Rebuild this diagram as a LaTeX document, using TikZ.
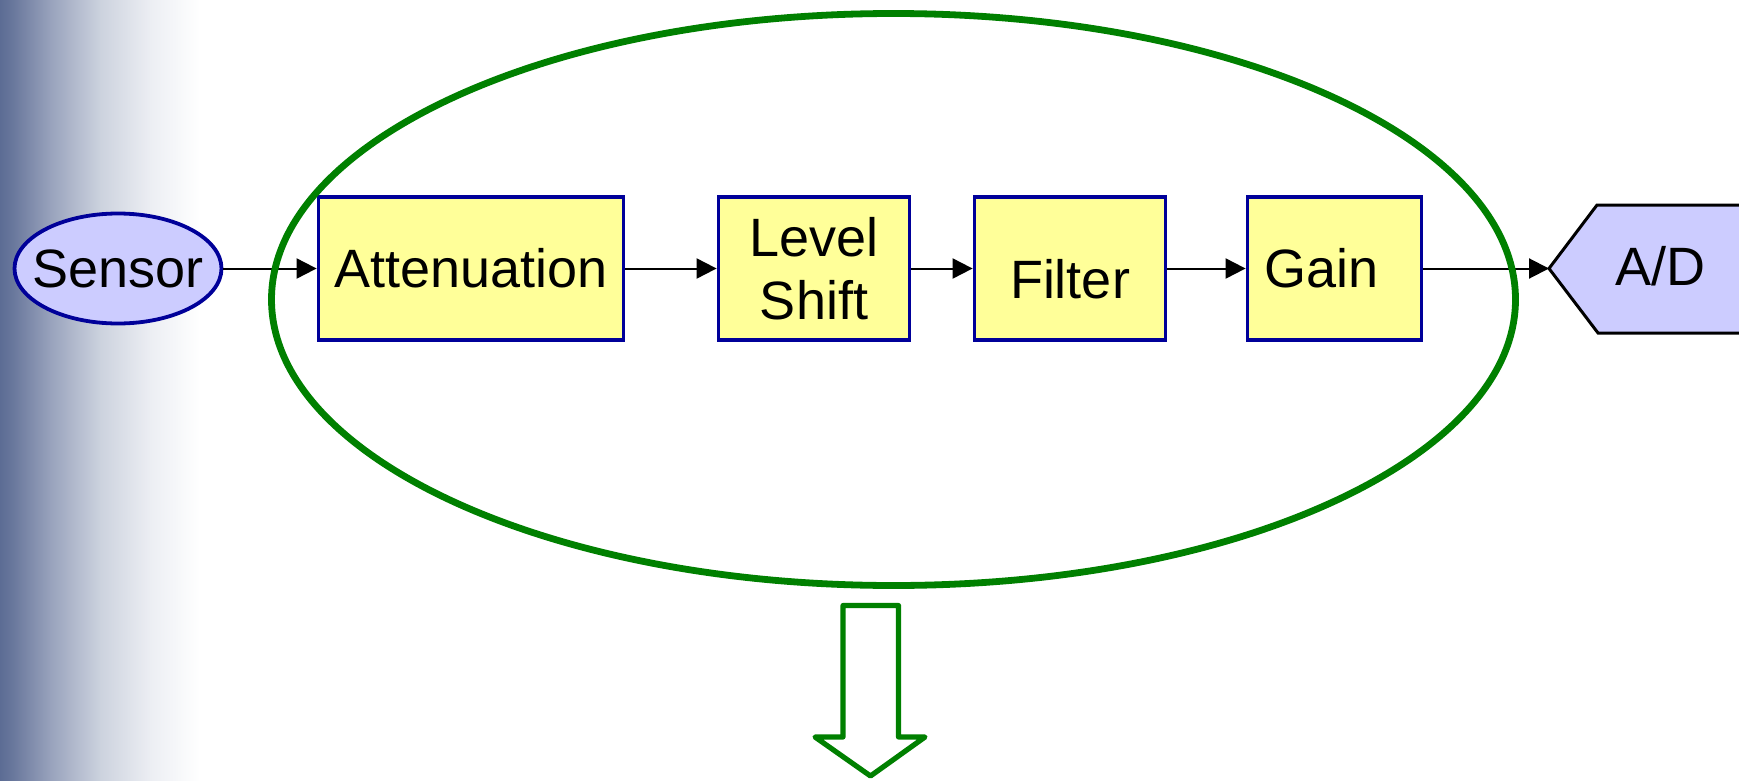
\documentclass[tikz,border=0pt]{standalone}
\usepackage{fontspec}
\setmainfont{Liberation Sans}
\usetikzlibrary{arrows.meta,shapes.geometric}
\definecolor{boxfill}{HTML}{FFFF99}
\definecolor{lav}{HTML}{CCCCFF}
\definecolor{navy}{HTML}{000099}
\definecolor{grn}{HTML}{008000}
\definecolor{g0}{RGB}{92,108,148}
\definecolor{g1}{RGB}{108,122,158}
\definecolor{g2}{RGB}{152,162,188}
\definecolor{g3}{RGB}{204,210,222}
\definecolor{g4}{RGB}{236,238,243}
\begin{document}
\begin{tikzpicture}[x=0.5pt,y=-0.5pt,
  every node/.style={font=\fontsize{27}{31.5}\selectfont},
  every label/.style={font=\fontsize{27}{31.5}\selectfont},
  stage/.style={draw=navy, fill=boxfill, line width=1.9pt, rectangle, inner sep=0pt,
    minimum height=71.5pt, align=center},
  sensorbox/.style={ellipse, draw=navy, fill=lav, line width=1.9pt, inner sep=0pt,
    minimum width=103.5pt, minimum height=55pt},
  arr/.style={-{Triangle[length=10pt,width=10pt]}, line width=1pt},
  bigarrow/.style={draw=grn, line width=2.6pt, line join=round, fill=white}
]
\clip (0,0) rectangle (1739,781);
\fill[white] (0,0) rectangle (1739,781);
% left gradient band
\shade[left color=g0,right color=g1] (0,0) rectangle (15.5,781);
\shade[left color=g1,right color=g2] (15,0) rectangle (50.5,781);
\shade[left color=g2,right color=g3] (50,0) rectangle (100.5,781);
\shade[left color=g3,right color=g4] (100,0) rectangle (150.5,781);
\shade[left color=g4,right color=white] (150,0) rectangle (200,781);

% nodes
\node[sensorbox, label={center:Sensor}] (sensor) at (118,268.5) {};
\node[stage, minimum width=152.5pt] (att) at (471,268.5) {Attenuation};
\node[stage, minimum width=95.5pt] (lvl) at (814,268.5) {Level\\Shift};
\node[stage, minimum width=95.5pt,
  label={[yshift=-5.5pt]center:Filter}] (filt) at (1070,268.5) {};
\node[stage, minimum width=87pt,
  label={[xshift=-6.5pt]center:Gain}] (gain) at (1334.5,268.5) {};

% A/D converter shape
\draw[line width=1.5pt, fill=lav] (1549,268.5) -- (1597,205) -- (1760,205)
  -- (1760,333) -- (1598,333) -- cycle;
\coordinate (adtip) at (1549,268.5);
\node (ad) at (1660,266) {A/D};

% connectors
\draw[arr] (sensor) -- (att);
\draw[arr] (att) -- (lvl);
\draw[arr] (lvl) -- (filt);
\draw[arr] (filt) -- (gain);
\draw[arr] (gain) -- (adtip);

% green grouping ellipse
\draw[draw=grn, line width=3.4pt] (893.5,299.5) ellipse [x radius=311pt, y radius=143pt];

% big hollow down arrow
\draw[bigarrow] (843,605.5) -- (898.5,605.5) -- (898.5,737) -- (925,737)
  -- (870.5,776) -- (815,737) -- (843,737) -- cycle;
\end{tikzpicture}
\end{document}
